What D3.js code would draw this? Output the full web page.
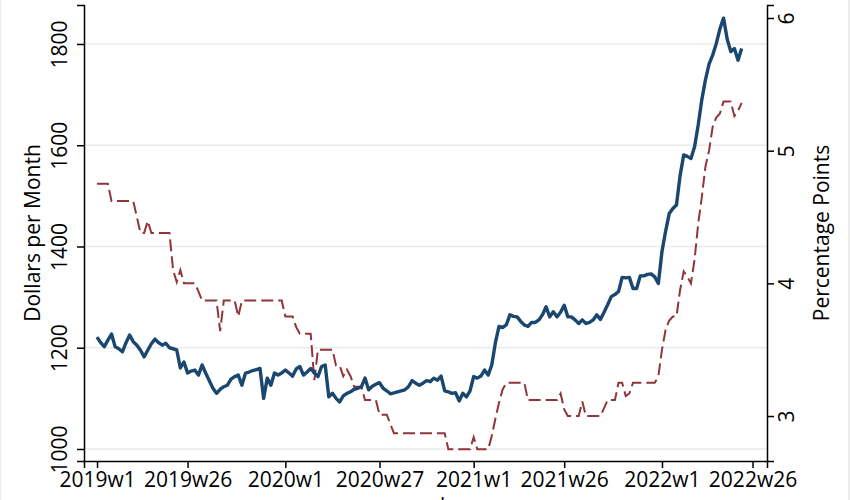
<!DOCTYPE html>
<html>
<head>
<meta charset="utf-8">
<script src="https://cdn.jsdelivr.net/npm/d3@7"></script>
<style>
  html, body { margin: 0; padding: 0; background: #fff; }
  svg { display: block; font-family: "Open Sans", sans-serif; }
</style>
</head>
<body>
<svg width="850" height="500"></svg>
<script>
// weekly series, index 0 = 2019w1 (52 weeks per year)
const dollars = [
  1221,1210,1202,1215,1227,1202,1198,1192,1210,1225,
  1212,1205,1195,1182,1195,1208,1217,1210,1205,1209,
  1200,1198,1196,1160,1172,1150,1154,1156,1146,1166,
  1150,1135,1120,1110,1118,1123,1126,1138,1143,1146,
  1126,1150,1152,1155,1157,1159,1100,1140,1126,1150,
  1146,1150,1156,1150,1144,1158,1163,1146,1152,1159,
  1150,1143,1163,1166,1103,1110,1100,1093,1105,1110,
  1113,1118,1120,1123,1140,1117,1124,1128,1131,1120,
  1115,1109,1111,1113,1115,1117,1123,1135,1130,1126,
  1130,1135,1133,1140,1136,1144,1115,1113,1110,1111,
  1095,1110,1103,1115,1143,1140,1144,1156,1146,1166,
  1210,1242,1240,1245,1265,1262,1261,1252,1245,1242,
  1250,1250,1255,1265,1281,1261,1271,1261,1270,1284,
  1261,1261,1255,1248,1255,1248,1250,1255,1265,1256,
  1270,1285,1301,1305,1311,1339,1338,1339,1317,1317,
  1342,1342,1345,1346,1340,1327,1390,1430,1465,1475,
  1482,1540,1581,1578,1574,1597,1640,1690,1729,1760,
  1778,1801,1830,1851,1810,1785,1791,1768,1791
];

const points = [
  4.75,4.75,4.75,4.75,4.62,4.62,4.62,4.62,4.62,4.62,
  4.62,4.5,4.38,4.38,4.47,4.38,4.38,4.38,4.38,4.38,
  4.38,4.1,4.01,4.1,4.0,4.0,4.0,4.0,3.94,3.87,
  3.87,3.87,3.87,3.87,3.64,3.87,3.87,3.87,3.87,3.75,
  3.87,3.87,3.87,3.87,3.87,3.87,3.87,3.87,3.87,3.87,
  3.87,3.87,3.75,3.75,3.75,3.67,3.62,3.62,3.62,3.62,
  3.27,3.5,3.5,3.5,3.5,3.5,3.38,3.38,3.3,3.35,
  3.3,3.22,3.22,3.22,3.12,3.12,3.12,3.12,3.01,3.01,
  3.01,2.94,2.87,2.87,2.87,2.87,2.87,2.87,2.87,2.87,
  2.87,2.87,2.87,2.87,2.87,2.87,2.87,2.75,2.75,2.75,
  2.75,2.75,2.75,2.75,2.84,2.75,2.75,2.75,2.75,2.85,
  2.98,3.1,3.2,3.25,3.25,3.25,3.25,3.25,3.25,3.12,
  3.12,3.12,3.12,3.12,3.12,3.12,3.12,3.12,3.17,3.05,
  3.0,3.0,3.0,3.0,3.11,3.0,3.0,3.0,3.0,3.0,
  3.06,3.12,3.12,3.12,3.25,3.25,3.15,3.17,3.25,3.25,
  3.25,3.25,3.25,3.25,3.25,3.3,3.5,3.65,3.72,3.75,
  3.75,3.95,4.09,4.05,4.0,4.18,4.45,4.65,4.88,5.0,
  5.18,5.25,5.28,5.37,5.37,5.37,5.26,5.3,5.36
];

const weekTicks = [0, 25, 52, 78, 104, 129, 156, 181];
const weekLabels = ["2019w1","2019w26","2020w1","2020w27","2021w1","2021w26","2022w1","2022w26"];
const leftTicks = [1000, 1200, 1400, 1600, 1800];
const rightTicks = [3, 4, 5, 6];

const svg = d3.select("svg");
const plotL = 84, plotR = 767, plotT = 5, plotB = 461;

const x = d3.scaleLinear().domain([-3.6, 185]).range([plotL, plotR]);
const yL = d3.scaleLinear().domain([976.3, 1877]).range([plotB, plotT]);
const yR = d3.scaleLinear().domain([2.661, 6.098]).range([plotB, plotT]);

// faint outer frame edges
svg.append("line").attr("x1", 849).attr("x2", 849).attr("y1", 0).attr("y2", 500)
  .attr("stroke", "#e6e6e6").attr("stroke-width", 1.5);
svg.append("line").attr("x1", 0.5).attr("x2", 0.5).attr("y1", 0).attr("y2", 500)
  .attr("stroke", "#ececec").attr("stroke-width", 1.5);

// grid
svg.append("g")
  .selectAll("line")
  .data(leftTicks)
  .join("line")
  .attr("x1", plotL).attr("x2", plotR)
  .attr("y1", d => yL(d)).attr("y2", d => yL(d))
  .attr("stroke", "#eaeaee").attr("stroke-width", 1.5);

// series
const lineR = d3.line().x((d, i) => x(i)).y(d => yR(d));
const lineL = d3.line().x((d, i) => x(i)).y(d => yL(d));

svg.append("path")
  .datum(points)
  .attr("d", lineR)
  .attr("fill", "none")
  .attr("stroke", "#90353b")
  .attr("stroke-width", 2)
  .attr("stroke-dasharray", "12,5");

svg.append("path")
  .datum(dollars)
  .attr("d", lineL)
  .attr("fill", "none")
  .attr("stroke", "#1a476f")
  .attr("stroke-width", 3.4)
  .attr("stroke-linejoin", "round");

// axes
const axisFont = 21;

const gx = svg.append("g").attr("transform", `translate(0,${plotB})`)
  .call(d3.axisBottom(x).tickValues(weekTicks).tickFormat((d, i) => weekLabels[i]).tickSizeOuter(0).tickSize(7).tickPadding(4));

const gl = svg.append("g").attr("transform", `translate(${plotL},0)`)
  .call(d3.axisLeft(yL).tickValues(leftTicks).tickFormat(d3.format("d")).tickSizeOuter(0).tickSize(7).tickPadding(0));

const gr = svg.append("g").attr("transform", `translate(${plotR},0)`)
  .call(d3.axisRight(yR).tickValues(rightTicks).tickFormat(d3.format("d")).tickSizeOuter(0).tickSize(7).tickPadding(0));

[gx, gl, gr].forEach(g => {
  g.select(".domain").attr("stroke", "#000").attr("stroke-width", 1.5);
  g.selectAll(".tick line").attr("stroke", "#000").attr("stroke-width", 1.5);
  g.selectAll("text").attr("font-size", axisFont).attr("fill", "#000")
    .attr("font-family", "Open Sans, sans-serif");
});

// vertical tick labels on the y axes
gl.selectAll(".tick text")
  .attr("x", null).attr("dy", null)
  .attr("text-anchor", "middle")
  .attr("transform", "translate(-17,0) rotate(-90)");

gr.selectAll(".tick text")
  .attr("x", null).attr("dy", null)
  .attr("text-anchor", "middle")
  .attr("transform", "translate(27,0) rotate(-90)");

// axis titles
svg.append("text")
  .attr("transform", `translate(40,${(plotT + plotB) / 2}) rotate(-90)`)
  .attr("text-anchor", "middle")
  .attr("font-size", axisFont)
  .text("Dollars per Month");

svg.append("text")
  .attr("transform", `translate(829,${(plotT + plotB) / 2}) rotate(-90)`)
  .attr("text-anchor", "middle")
  .attr("font-size", axisFont)
  .text("Percentage Points");

// x title sits mostly below the visible area; only the tip of the k shows
svg.append("text")
  .attr("x", (plotL + plotR) / 2)
  .attr("y", 513)
  .attr("text-anchor", "middle")
  .attr("font-size", axisFont)
  .text("week");
</script>
</body>
</html>
